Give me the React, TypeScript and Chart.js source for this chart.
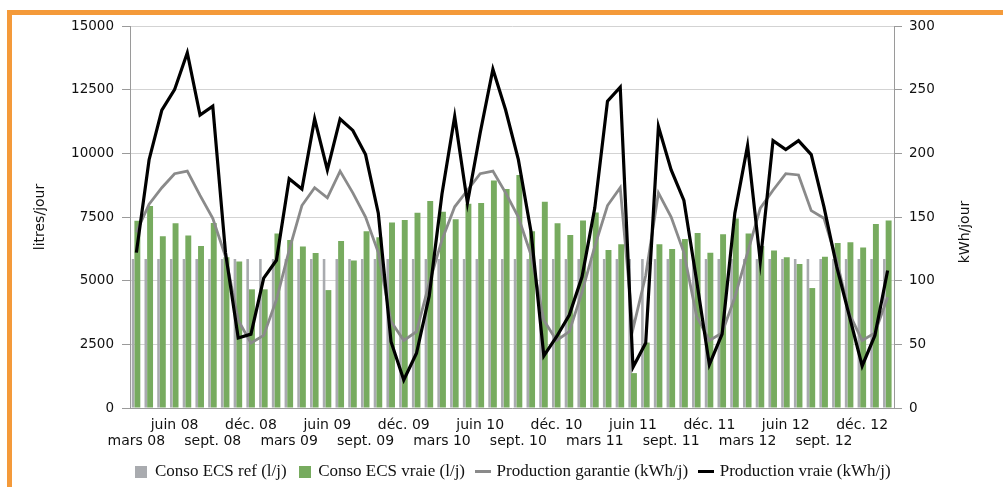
import React, { useEffect, useRef } from 'react';
import { Chart, registerables } from 'chart.js';

Chart.register(...registerables);

const categories: string[] = [
  'mars 08', 'avr. 08', 'mai 08', 'juin 08', 'juil. 08', 'août 08', 'sept. 08', 'oct. 08', 'nov. 08', 'déc. 08', 'janv. 09', 'févr. 09',
  'mars 09', 'avr. 09', 'mai 09', 'juin 09', 'juil. 09', 'août 09', 'sept. 09', 'oct. 09', 'nov. 09', 'déc. 09', 'janv. 10', 'févr. 10',
  'mars 10', 'avr. 10', 'mai 10', 'juin 10', 'juil. 10', 'août 10', 'sept. 10', 'oct. 10', 'nov. 10', 'déc. 10', 'janv. 11', 'févr. 11',
  'mars 11', 'avr. 11', 'mai 11', 'juin 11', 'juil. 11', 'août 11', 'sept. 11', 'oct. 11', 'nov. 11', 'déc. 11', 'janv. 12', 'févr. 12',
  'mars 12', 'avr. 12', 'mai 12', 'juin 12', 'juil. 12', 'août 12', 'sept. 12', 'oct. 12', 'nov. 12', 'déc. 12', 'janv. 13', 'févr. 13',
];

// Conso ECS ref (l/j)
const consoRef: number[] = [
  5850, 5850, 5850, 5850, 5850, 5850, 5850, 5850, 5850, 5850, 5850, 5850,
  5850, 5850, 5850, 5850, 5850, 5850, 5850, 5850, 5850, 5850, 5850, 5850,
  5850, 5850, 5850, 5850, 5850, 5850, 5850, 5850, 5850, 5850, 5850, 5850,
  5850, 5850, 5850, 5850, 5850, 5850, 5850, 5850, 5850, 5850, 5850, 5850,
  5850, 5850, 5850, 5850, 5850, 5850, 5850, 5850, 5850, 5850, 5850, 5850,
];

// Conso ECS vraie (l/j)
const consoVraie: number[] = [
  7350, 7930, 6740, 7250, 6770, 6360, 7260, 5920, 5750, 4660, 4660, 6850,
  6600, 6340, 6090, 4630, 6560, 5790, 6940, 6700, 7280, 7380, 7670, 8130,
  7710, 7410, 8020, 8050, 8930, 8600, 9150, 6940, 8100, 7250, 6790, 7360,
  7680, 6200, 6430, 1370, 2570, 6430, 6240, 6640, 6870, 6100, 6820, 7440,
  6850, 6360, 6180, 5920, 5650, 4710, 5940, 6480, 6510, 6300, 7230, 7360,
];

// Production garantie (kWh/j)
const prodGarantie: number[] = [
  138, 160, 173, 184, 186, 167, 149, 119, 69, 51, 57, 85,
  124, 159, 173, 165, 186, 169, 150, 122, 68, 53, 60, 98,
  132, 158, 171, 184, 186, 169, 150, 120, 69, 53, 60, 91,
  127, 159, 173, 62, 104, 169, 150, 122, 72, 53, 59, 87,
  122, 157, 171, 184, 183, 155, 149, 116, 74, 53, 59, 87,
];

// Production vraie (kWh/j)
const prodVraie: number[] = [
  122, 195, 234, 250, 279, 230, 237, 122, 55, 58, 102, 116,
  180, 172, 227, 187, 227, 218, 199, 153, 52, 22, 43, 88,
  168, 229, 161, 216, 266, 234, 195, 138, 41, 56, 73, 103,
  157, 241, 252, 32, 51, 221, 187, 163, 100, 34, 58, 153,
  206, 115, 210, 203, 210, 199, 158, 111, 72, 33, 57, 108,
];

const leftTitle = 'litres/jour';
const rightTitle = 'kWh/jour';
const seriesNames = ['Conso ECS ref (l/j)', 'Conso ECS vraie (l/j)', 'Production garantie (kWh/j)', 'Production vraie (kWh/j)'];

const GREY_BAR = '#A9ABAF';
const GREEN_BAR = '#77AB5F';
const GREY_LINE = '#8A8A8A';
const BLACK_LINE = '#000000';
const AXIS = '#9A9A9A';
const GRID = '#D3D3D3';
const TEXT = '#111111';
const SANS = '"DejaVu Sans", Verdana, sans-serif';
const SERIF = '"Liberation Serif", "Times New Roman", serif';

function marker(w: number, h: number, color: string): HTMLCanvasElement {
  const c = document.createElement('canvas');
  c.width = w;
  c.height = h;
  const g = c.getContext('2d')!;
  g.fillStyle = color;
  g.fillRect(0, 0, w, h);
  return c;
}

export default function App() {
  const ref = useRef<HTMLCanvasElement | null>(null);

  useEffect(() => {
    if (!ref.current) return;
    const markers = [
      marker(12, 12, GREY_BAR),
      marker(12, 12, GREEN_BAR),
      marker(16, 3, GREY_LINE),
      marker(16, 3, BLACK_LINE),
    ];

    const rightTitlePlugin = {
      id: 'rightTitle',
      afterDraw(chart: any) {
        const s = chart.scales.y1;
        const area = chart.chartArea;
        const ctx = chart.ctx;
        ctx.save();
        ctx.translate(s.left + 71, (area.top + area.bottom) / 2 + 15);
        ctx.rotate(-Math.PI / 2);
        ctx.font = `14px ${SANS}`;
        ctx.fillStyle = TEXT;
        ctx.textAlign = 'center';
        ctx.textBaseline = 'middle';
        ctx.fillText(rightTitle, 0, 0);
        ctx.restore();
      },
    };

    const chart = new Chart(ref.current, {
      type: 'bar',
      data: {
        labels: categories,
        datasets: [
          {
            type: 'bar',
            label: seriesNames[0],
            data: consoRef,
            backgroundColor: GREY_BAR,
            yAxisID: 'y',
            categoryPercentage: 1.04,
            barPercentage: 0.39,
            order: 2,
          },
          {
            type: 'bar',
            label: seriesNames[1],
            data: consoVraie,
            backgroundColor: GREEN_BAR,
            yAxisID: 'y',
            categoryPercentage: 0.31,
            barPercentage: 3.0,
            order: 2,
          },
          {
            type: 'line',
            label: seriesNames[2],
            data: prodGarantie,
            borderColor: GREY_LINE,
            backgroundColor: GREY_LINE,
            borderWidth: 2.8,
            pointRadius: 0,
            tension: 0,
            yAxisID: 'y1',
            order: 1,
          },
          {
            type: 'line',
            label: seriesNames[3],
            data: prodVraie,
            borderColor: BLACK_LINE,
            backgroundColor: BLACK_LINE,
            borderWidth: 3.2,
            pointRadius: 0,
            tension: 0,
            yAxisID: 'y1',
            order: 0,
          },
        ] as any,
      },
      options: {
        responsive: false,
        animation: false,
        layout: { padding: { top: 26, left: 24, right: 0, bottom: -3 } },
        plugins: {
          tooltip: { enabled: false },
          legend: {
            position: 'bottom',
            labels: {
              usePointStyle: true,
              pointStyleWidth: 10,
              padding: 13,
              color: TEXT,
              font: { family: SERIF, size: 17 },
              sort: (a: any, b: any) => a.datasetIndex - b.datasetIndex,
              generateLabels: (c: any) => {
                const items = (Chart.defaults.plugins.legend.labels as any).generateLabels(c);
                items.forEach((it: any) => {
                  it.pointStyle = markers[it.datasetIndex];
                });
                return items;
              },
            },
          },
        },
        scales: {
          x: {
            type: 'category',
            offset: true,
            grid: { display: false },
            border: { display: true, color: AXIS, width: 1 },
            ticks: {
              autoSkip: false,
              maxRotation: 0,
              minRotation: 0,
              padding: 2,
              color: TEXT,
              font: { family: SANS, size: 14, lineHeight: 1.12 },
              callback: (_v: any, index: number) => {
                if (index % 3 !== 0) return '';
                const lab = categories[index];
                return index % 6 === 3 ? [lab, ''] : ['', lab];
              },
            },
            afterFit: (s: any) => {
              s.height = 42;
            },
          },
          y: {
            position: 'left',
            min: 0,
            max: 15000,
            ticks: {
              stepSize: 2500,
              padding: 8,
              color: TEXT,
              font: { family: SANS, size: 13.5 },
              callback: (v: any) => String(v),
            },
            grid: { color: GRID, tickColor: AXIS, tickLength: 8, drawTicks: true },
            border: { color: AXIS, width: 1 },
            title: {
              display: true,
              text: leftTitle,
              color: TEXT,
              font: { family: SANS, size: 14 },
              padding: { top: 8, bottom: 0 },
            },
            afterFit: (s: any) => {
              s.width = 106;
            },
          },
          y1: {
            position: 'right',
            min: 0,
            max: 300,
            ticks: {
              stepSize: 50,
              padding: 7,
              color: TEXT,
              font: { family: SANS, size: 13.5 },
              callback: (v: any) => String(v),
            },
            grid: { drawOnChartArea: false, color: AXIS, tickLength: 8 },
            border: { color: AXIS, width: 1 },
            afterFit: (s: any) => {
              s.width = 109;
            },
          },
        },
      } as any,
      plugins: [rightTitlePlugin],
    });

    return () => chart.destroy();
  }, []);

  return (
    <div style={{ position: 'absolute', left: 0, top: 0, width: 1003, height: 487, overflow: 'hidden', background: '#fff' }}>
      <div
        style={{
          position: 'absolute',
          left: 7,
          top: 10,
          right: -10,
          bottom: -10,
          borderTop: '5px solid #F49A3A',
          borderLeft: '5px solid #F49A3A',
        }}
      />
      <canvas ref={ref} width={1003} height={487} style={{ position: 'absolute', left: 0, top: 0, width: 1003, height: 487 }} />
    </div>
  );
}
